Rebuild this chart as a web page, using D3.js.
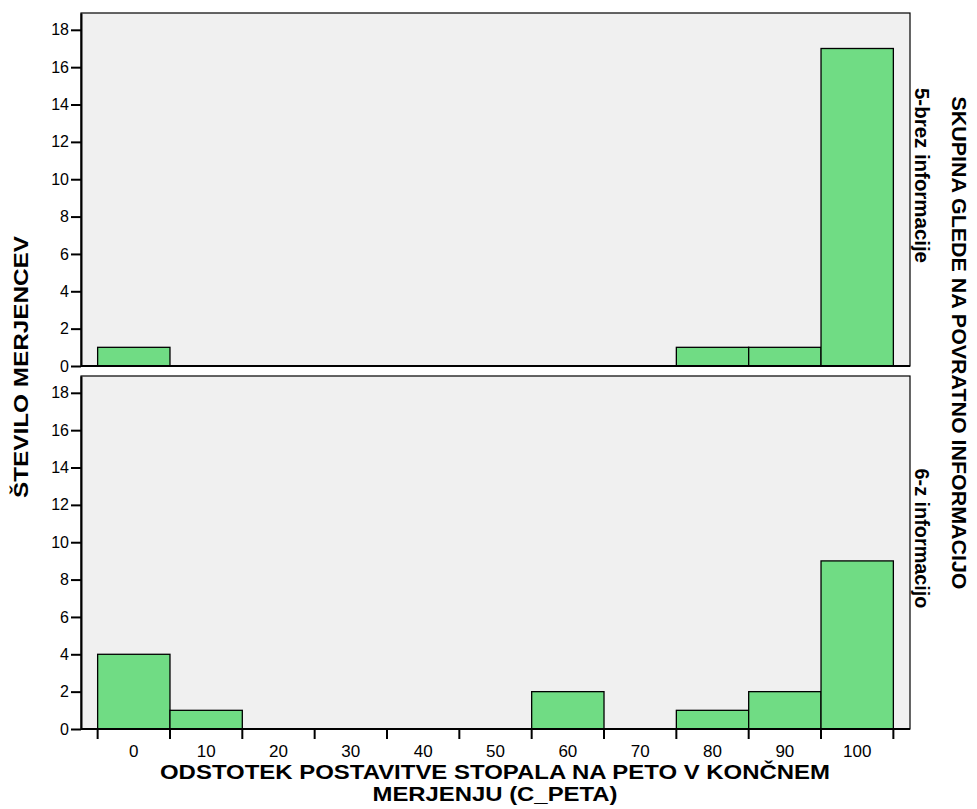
<!DOCTYPE html>
<html>
<head>
<meta charset="utf-8">
<script src="https://cdn.jsdelivr.net/npm/d3@7"></script>
<style>
  body { margin: 0; background: #fff; }
  svg text { font-family: "Liberation Sans", Arial, sans-serif; fill: #000; }
</style>
</head>
<body>
<svg id="chart" width="977" height="809"></svg>
<script>
// histogram bins (bin centres) and counts per group
const binCenters = [0, 10, 20, 30, 40, 50, 60, 70, 80, 90, 100];
const groups = ["5-brez informacije", "6-z informacijo"];
const countsBrez = [1, 0, 0, 0, 0, 0, 0, 0, 1, 1, 17];
const countsZ = [4, 1, 0, 0, 0, 0, 2, 0, 1, 2, 9];
const yTicks = [0, 2, 4, 6, 8, 10, 12, 14, 16, 18];

const binWidth = 10;
const svg = d3.select('#chart');

const left = 81, right = 910;
const panels = [
    { top: 13, bottom: 366, counts: countsBrez, label: groups[0], labelLen: 175 },
    { top: 376, bottom: 729, counts: countsZ, label: groups[1], labelLen: 140 }
];

const x = d3.scaleLinear().domain([-7.3, 107.3]).range([left, right]);

panels.forEach((p, i) => {
    const y = d3.scaleLinear().domain([0, 18.9]).range([p.bottom, p.top]);
    const g = svg.append('g');

    // panel background
    g.append('rect')
        .attr('x', left).attr('y', p.top)
        .attr('width', right - left).attr('height', p.bottom - p.top)
        .attr('fill', '#f0f0f0')
        .attr('stroke', '#000').attr('stroke-width', 1.2);

    // bars
    const bins = binCenters.map((c, j) => ({ c: c, v: p.counts[j] })).filter(d => d.v > 0);
    g.selectAll('rect.bar')
        .data(bins)
        .enter()
        .append('rect')
        .attr('class', 'bar')
        .attr('x', d => x(d.c - binWidth / 2))
        .attr('width', d => x(d.c + binWidth / 2) - x(d.c - binWidth / 2))
        .attr('y', d => y(d.v))
        .attr('height', d => y(0) - y(d.v))
        .attr('fill', '#70dc84')
        .attr('stroke', '#000')
        .attr('stroke-width', 1.3);

    // y axis
    const yAxis = g.append('g')
        .attr('transform', `translate(${left},0)`)
        .call(d3.axisLeft(y).tickValues(yTicks).tickSize(10).tickPadding(2).tickSizeOuter(0));
    yAxis.select('.domain').attr('stroke-width', 2);
    yAxis.selectAll('.tick line').attr('stroke-width', 2);
    yAxis.selectAll('text')
        .style('font-size', '16px')
        .attr('font-family', '"Liberation Sans", Arial, sans-serif');

    // x axis line (bottom of panel)
    g.append('line')
        .attr('x1', left).attr('x2', right)
        .attr('y1', p.bottom).attr('y2', p.bottom)
        .attr('stroke', '#000').attr('stroke-width', 2);

    // strip label on the right
    const cy = (p.top + p.bottom) / 2 - 14;
    g.append('text')
        .attr('transform', `translate(915,${cy}) rotate(90)`)
        .attr('text-anchor', 'middle')
        .attr('textLength', p.labelLen)
        .attr('lengthAdjust', 'spacingAndGlyphs')
        .style('font-size', '20px')
        .style('font-weight', 'bold')
        .text(p.label);
});

// x ticks at bin edges, labels at bin centres (bottom panel only)
const xAxisG = svg.append('g').attr('transform', `translate(0,729)`);
const edges = binCenters.map(c => c - binWidth / 2).concat([binCenters[binCenters.length - 1] + binWidth / 2]);
xAxisG.selectAll('line.tick')
    .data(edges)
    .enter()
    .append('line')
    .attr('x1', d => x(d)).attr('x2', d => x(d))
    .attr('y1', 0).attr('y2', 10)
    .attr('stroke', '#000').attr('stroke-width', 2);
xAxisG.selectAll('text.lbl')
    .data(binCenters)
    .enter()
    .append('text')
    .attr('x', d => x(d))
    .attr('y', 28)
    .attr('text-anchor', 'middle')
    .style('font-size', '17px')
    .text(d => d);

// axis titles
svg.append('text')
    .attr('x', 495).attr('y', 779)
    .attr('text-anchor', 'middle')
    .attr('textLength', 670).attr('lengthAdjust', 'spacingAndGlyphs')
    .style('font-size', '21px').style('font-weight', 'bold')
    .text('ODSTOTEK POSTAVITVE STOPALA NA PETO V KONČNEM');
svg.append('text')
    .attr('x', 495).attr('y', 801)
    .attr('text-anchor', 'middle')
    .attr('textLength', 245).attr('lengthAdjust', 'spacingAndGlyphs')
    .style('font-size', '21px').style('font-weight', 'bold')
    .text('MERJENJU (C_PETA)');

svg.append('text')
    .attr('transform', 'translate(28,367) rotate(-90)')
    .attr('text-anchor', 'middle')
    .attr('textLength', 262).attr('lengthAdjust', 'spacingAndGlyphs')
    .style('font-size', '21px').style('font-weight', 'bold')
    .text('ŠTEVILO MERJENCEV');

svg.append('text')
    .attr('transform', 'translate(952,343) rotate(90)')
    .attr('text-anchor', 'middle')
    .attr('textLength', 493).attr('lengthAdjust', 'spacingAndGlyphs')
    .style('font-size', '21px').style('font-weight', 'bold')
    .text('SKUPINA GLEDE NA POVRATNO INFORMACIJO');
</script>
</body>
</html>
